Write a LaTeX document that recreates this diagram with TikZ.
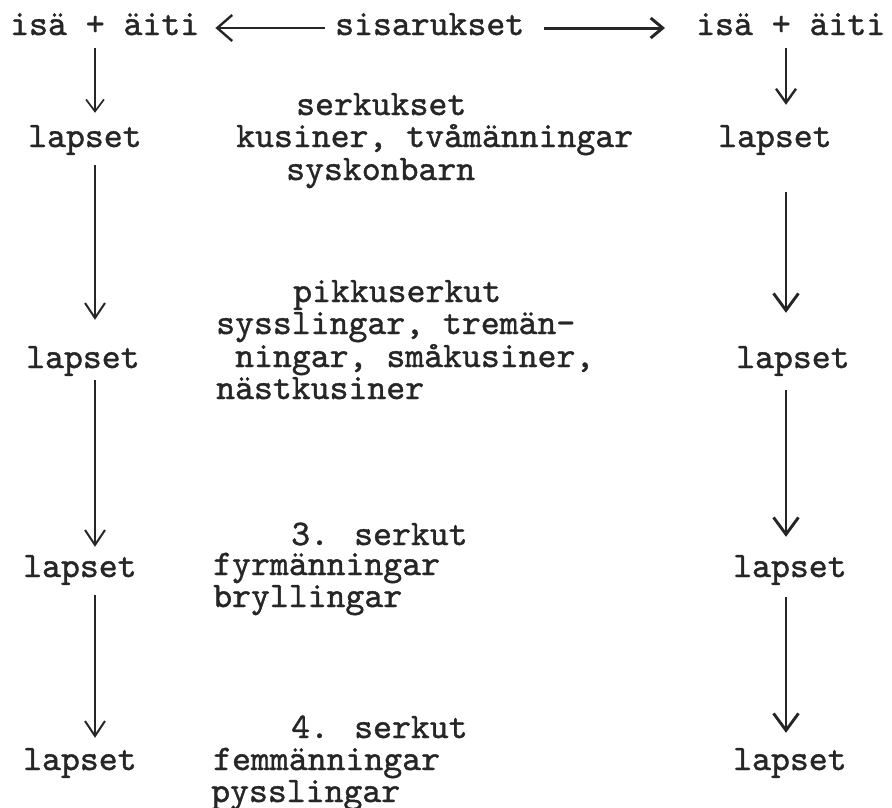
\documentclass[tikz,border=0pt]{standalone}
\usepackage{fontspec}
\newfontfamily\typew{lmmono10-regular.otf}[FakeBold=1.2]
\usepackage{tikz}
\usetikzlibrary{arrows.meta,positioning}

\begin{document}
\begin{tikzpicture}[x=1pt, y=-1pt,
  word/.style={font=\typew\fontsize{36}{33}\selectfont, inner sep=0pt,
    text height=22pt, text depth=8pt, anchor=base west, text=black!85},
  arrthin/.style={-{Straight Barb[length=15pt,width=20pt]}, line width=2pt,
    draw=black!85},
  arrthick/.style={-{Straight Barb[length=17pt,width=25pt]}, line width=2.9pt,
    draw=black!85},
]
  \useasboundingbox (0,0) rectangle (892,807);

  % top row
  \node[word] (isaL) at (10,35) {isä + äiti};
  \node[word] (sis) at (335,35) {sisarukset};
  \node[word] (isaR) at (696,35) {isä + äiti};

  % left column
  \node[word] (lapL1) at (28,147) {lapset};
  \node[word] (lapL2) at (26,368) {lapset};
  \node[word] (lapL3) at (23,577) {lapset};
  \node[word] (lapL4) at (23,770) {lapset};
  \coordinate (colL) at (95,0);

  % right column
  \node[word] (lapR1) at (718,147) {lapset};
  \node[word] (lapR2) at (736,368) {lapset};
  \node[word] (lapR3) at (733,577) {lapset};
  \node[word] (lapR4) at (733,770) {lapset};
  \coordinate (colR) at (786,0);

  % names in the middle
  \node[word] (g1a) at (296,115) {serkukset};
  \node[word] (g1b) at (236,147) {kusiner, tvåmänningar};
  \node[word] (g1c) at (286,180) {syskonbarn};

  \node[word] (g2a) at (293,302) {pikkuserkut};
  \node[word] (g2b) at (216,334) {sysslingar, tremän-};
  \node[word] (g2c) at (235,367) {ningar, småkusiner,};
  \node[word] (g2d) at (216,399) {nästkusiner};

  \node[word] (g3a) at (291,545) {3. serkut};
  \node[word] (g3b) at (213,575) {fyrmänningar};
  \node[word] (g3c) at (213,607) {bryllingar};

  \node[word] (g4a) at (291,738) {4. serkut};
  \node[word] (g4b) at (213,770) {femmänningar};
  \node[word] (g4c) at (211,802) {pysslingar};

  % arrows
  \draw[-{Straight Barb[length=15pt,width=26pt]}, line width=2.4pt, draw=black!85,
    shorten <=10pt, shorten >=16pt] (sis.west) -- (isaL.east);
  \draw[-{Straight Barb[length=12pt,width=20pt]}, line width=3pt, draw=black!85,
    shorten <=20pt, shorten >=31pt] (sis.east) -- (isaR.west);

  \draw[-{Straight Barb[length=12pt,width=18pt]}, line width=1.7pt, draw=black!85,
    shorten <=5pt, shorten >=12pt] (isaL.south -| colL) -- (lapL1.north -| colL);
  \draw[arrthin, shorten <=10pt, shorten >=26pt]
    (lapL1.south -| colL) -- (lapL2.north -| colL);
  \draw[arrthin, shorten <=4pt, shorten >=8pt]
    (lapL2.south -| colL) -- (lapL3.north -| colL);
  \draw[arrthin, shorten <=10pt, shorten >=10pt]
    (lapL3.south -| colL) -- (lapL4.north -| colL);

  \draw[-{Straight Barb[length=14pt,width=20pt]}, line width=2.4pt, draw=black!85,
    shorten <=5pt, shorten >=20pt] (isaR.south -| colR) -- (lapR1.north -| colR);
  \draw[arrthick, shorten <=37pt, shorten >=33pt]
    (lapR1.south -| colR) -- (lapR2.north -| colR);
  \draw[arrthick, shorten <=14pt, shorten >=18pt]
    (lapR2.south -| colR) -- (lapR3.north -| colR);
  \draw[arrthick, shorten <=12pt, shorten >=15pt]
    (lapR3.south -| colR) -- (lapR4.north -| colR);
\end{tikzpicture}
\end{document}
